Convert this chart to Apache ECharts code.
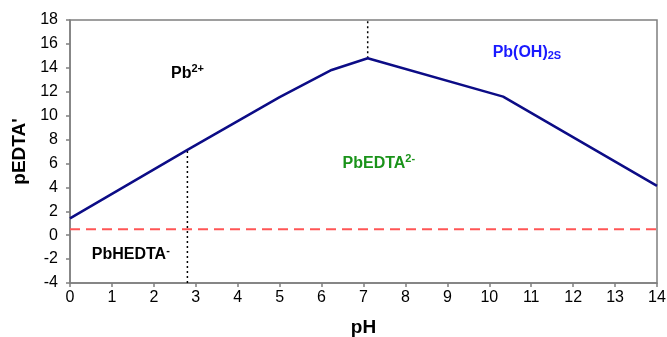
<!DOCTYPE html>
<html>
<head>
<meta charset="utf-8">
<script src="https://cdn.jsdelivr.net/npm/echarts@6/dist/echarts.min.js"></script>
<style>html,body{margin:0;padding:0;background:#fff;}#c{width:667px;height:337px;}</style>
</head>
<body>
<div id="c"></div>
<script>
// Data
var curvePH = [0, 2.8, 5.0, 6.24, 7.1, 10.33, 14];
var curvePEDTA = [1.4, 7.13, 11.55, 13.82, 14.8, 11.59, 4.12];
var dashedY = 0.5;
var xRange = [0, 14];
var yRange = [-4, 18];
var divider1 = [[2.8, -4], [2.8, 7.13]];
var divider2 = [[7.1, 14.8], [7.1, 18]];
var labelTexts = ['Pb2+', 'Pb(OH)2S', 'PbEDTA2-', 'PbHEDTA-'];
var labelCoords = [[2.41, 13.55], [10.08, 15.27], [6.5, 6.0], [0.52, -1.66]];

var curve = curvePH.map(function (x, i) { return [x, curvePEDTA[i]]; });

var FF = 'Liberation Sans, Arial, sans-serif';
var rich = {
  k: {fontFamily: FF, fontWeight: 'bold', fontSize: 16, color: '#000', lineHeight: 20},
  ks: {fontFamily: FF, fontWeight: 'bold', fontSize: 11, color: '#000', lineHeight: 20, padding: [0, 0, 8, 0]},
  b: {fontFamily: FF, fontWeight: 'bold', fontSize: 16, color: '#1a1aff', lineHeight: 20},
  bs: {fontFamily: FF, fontWeight: 'bold', fontSize: 11, color: '#1a1aff', lineHeight: 20, padding: [6, 0, 0, 0]},
  g: {fontFamily: FF, fontWeight: 'bold', fontSize: 16, color: '#1a931a', lineHeight: 20},
  gs: {fontFamily: FF, fontWeight: 'bold', fontSize: 11, color: '#1a931a', lineHeight: 20, padding: [0, 0, 8, 0]}
};
var labelFormats = [
  '{k|Pb}{ks|2+}',
  '{b|Pb(OH)}{bs|2S}',
  '{g|PbEDTA}{gs|2-}',
  '{k|PbHEDTA}{ks|-}'
];

var chart = echarts.init(document.getElementById('c'), null, {renderer: 'canvas'});
var axisColor = '#7f7f7f';
chart.setOption({
  animation: false,
  backgroundColor: '#fff',
  grid: {left: 70, right: 10, top: 20, bottom: 54, containLabel: false, outerBoundsMode: 'none',
         show: true, borderColor: axisColor, borderWidth: 1.5},
  xAxis: {
    type: 'value', min: xRange[0], max: xRange[1], interval: 1,
    name: 'pH', nameLocation: 'middle', nameGap: 35,
    nameTextStyle: {fontFamily: FF, fontWeight: 'bold', fontSize: 19, color: '#000'},
    axisLine: {onZero: false, lineStyle: {color: axisColor, width: 1.5}},
    axisTick: {lineStyle: {color: axisColor, width: 1.5}, length: 4},
    axisLabel: {fontFamily: FF, fontSize: 16, color: '#000', margin: 7},
    splitLine: {show: false}
  },
  yAxis: {
    type: 'value', min: yRange[0], max: yRange[1], interval: 2,
    name: "pEDTA'", nameLocation: 'middle', nameGap: 36, nameRotate: 90,
    nameTextStyle: {fontFamily: FF, fontWeight: 'bold', fontSize: 19, color: '#000'},
    axisLine: {onZero: false, lineStyle: {color: axisColor, width: 1.5}},
    axisTick: {lineStyle: {color: axisColor, width: 1.5}, length: 4},
    axisLabel: {fontFamily: FF, fontSize: 16, color: '#000', margin: 12},
    splitLine: {show: false}
  },
  series: [
    {
      type: 'line', data: [[xRange[0], dashedY], [xRange[1], dashedY]], symbol: 'none', silent: true,
      lineStyle: {color: '#ff5555', width: 2, type: [10, 6]}
    },
    {
      type: 'line', data: divider1, symbol: 'none', silent: true,
      lineStyle: {color: '#000', width: 1.5, type: [2, 3]}
    },
    {
      type: 'line', data: divider2, symbol: 'none', silent: true,
      lineStyle: {color: '#000', width: 1.5, type: [2, 3]}
    },
    {
      type: 'line', data: curve, symbol: 'none',
      lineStyle: {color: '#0c0c86', width: 2.5}
    },
    {
      type: 'scatter', symbolSize: 0, silent: true,
      itemStyle: {opacity: 1},
      data: labelCoords.map(function (c, i) { return {value: c, name: labelTexts[i]}; }),
      label: {
        show: true, position: [0, 0], align: 'left', verticalAlign: 'middle', opacity: 1,
        formatter: function (p) { return labelFormats[p.dataIndex]; },
        rich: rich
      }
    }
  ]
});
</script>
</body>
</html>
